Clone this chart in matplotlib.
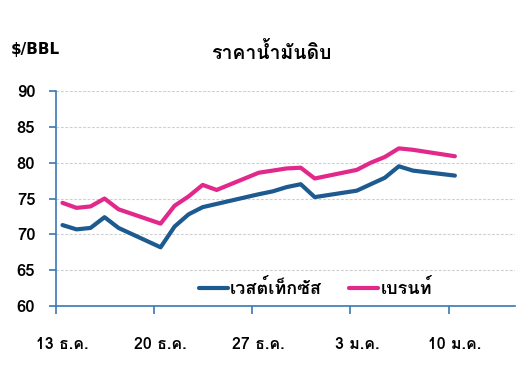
import matplotlib
matplotlib.use("Agg")
import matplotlib.pyplot as plt
from matplotlib import font_manager
from matplotlib.ft2font import FT2Font

# trading days, counted from 13 Dec
days = [0, 1, 2, 3, 4, 7, 8, 9, 10, 11, 14, 15, 16, 17, 18, 21, 22, 23, 24, 25, 28]
brent = [74.4, 73.7, 73.9, 75.0, 73.5, 71.5, 74.0, 75.3, 76.9, 76.2, 78.6, 78.9, 79.2,
         79.3, 77.8, 79.0, 80.0, 80.8, 82.0, 81.8, 80.9]
wti_days = [0, 1, 2, 3, 4, 7, 8, 9, 10, 14, 15, 16, 17, 18, 21, 22, 23, 24, 25, 28]
wti = [71.3, 70.7, 70.9, 72.4, 70.9, 68.2, 71.1, 72.8, 73.8, 75.6, 76.0, 76.6, 77.0,
       75.2, 76.1, 77.0, 77.9, 79.5, 78.9, 78.2]
tick_days = [0, 7, 14, 21, 28]
tick_labels = ["13 ธ.ค.", "20 ธ.ค.", "27 ธ.ค.", "3 ม.ค.", "10 ม.ค."]

# find a font that has Thai glyphs
thai = None
for f in font_manager.fontManager.ttflist:
    try:
        if 0x0E23 in FT2Font(f.fname).get_charmap():
            thai = f.name
            if f.weight in ("bold", 700):
                break
    except Exception:
        pass
fams = [thai, "DejaVu Sans"] if thai else ["DejaVu Sans"]
plt.rcParams["font.family"] = fams
plt.rcParams["font.weight"] = "bold"

blue = "#1c5a8f"
pink = "#e2288a"
axis_c = "#3978b4"

fig = plt.figure(figsize=(5.3, 3.67), dpi=100)
ax = fig.add_axes([0.106, 0.166, 0.866, 0.586])

ax.plot(wti_days, wti, color=blue, lw=3, label="เวสต์เท็กซัส", solid_capstyle="round")
ax.plot(days, brent, color=pink, lw=3, label="เบรนท์", solid_capstyle="round")

ax.set_ylim(60, 90)
ax.set_xlim(-0.45, 32.3)
ax.set_yticks(range(60, 91, 5))
ax.yaxis.grid(True, color="#cfcfcf", linestyle=(0, (2.5, 1.5)), lw=0.8)
ax.set_axisbelow(True)

ax.set_xticks([d - 0.45 for d in tick_days], minor=True)
ax.set_xticks(tick_days)
ax.set_xticklabels(tick_labels)
ax.tick_params(axis="x", which="major", length=0, pad=22, labelsize=11.5)
ax.tick_params(axis="x", which="minor", length=6, width=1.2, color=axis_c, direction="out")
ax.tick_params(axis="y", length=5, width=1.2, color=axis_c, labelsize=12, pad=10)

for s in ("top", "right"):
    ax.spines[s].set_visible(False)
for s in ("left", "bottom"):
    ax.spines[s].set_color(axis_c)
    ax.spines[s].set_linewidth(1.2)

leg = ax.legend(loc="lower left", bbox_to_anchor=(0.275, -0.04), ncol=2, frameon=False,
                fontsize=13, handlelength=1.6, handletextpad=0.15, columnspacing=1.5)

fig.text(0.066, 0.864, "$/BBL", ha="center", va="center", fontsize=11, weight="bold",
         family="DejaVu Sans")
fig.text(0.512, 0.858, "ราคาน้ำมันดิบ", ha="center", va="center", fontsize=14, weight="bold")

fig.savefig("out.png", dpi=100)
